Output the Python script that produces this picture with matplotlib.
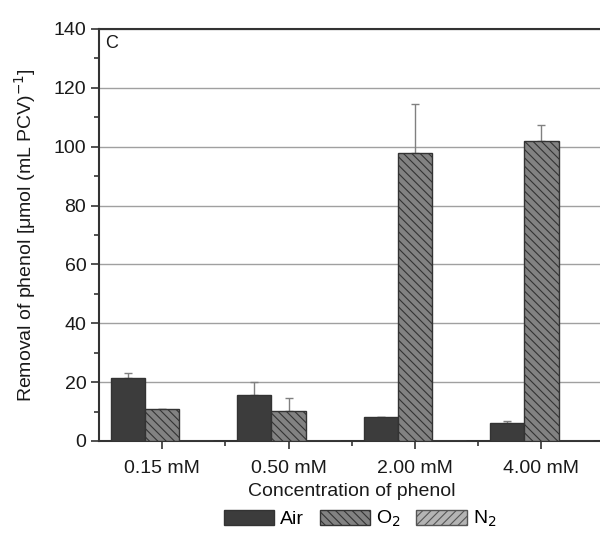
import matplotlib
matplotlib.use("Agg")
import matplotlib.pyplot as plt
import numpy as np
from matplotlib.ticker import MultipleLocator

plt.rcParams['font.family'] = ['Liberation Sans', 'DejaVu Sans']
plt.rcParams['hatch.linewidth'] = 0.8

categories = ["0.15 mM", "0.50 mM", "2.00 mM", "4.00 mM"]
air = [21.4, 15.6, 8.2, 6.1]
air_err = [1.7, 4.4, 0.0, 0.7]
o2 = [10.9, 10.2, 97.9, 101.9]
o2_err = [0.0, 4.4, 16.6, 5.5]
n2 = [0.0, 0.0, 0.0, 0.0]

fig = plt.figure(figsize=(6.0, 5.38), dpi=100)
ax = fig.add_axes([0.1646, 0.1803, 0.8433, 0.7658])

x = np.arange(len(categories))
w = 0.269
dark = "#333333"
txt = "#1a1a1a"
fs = 14

ax.bar(x - w, air, w, color="#3c3c3c", edgecolor=dark, linewidth=1.0, label="Air", zorder=3)
ax.bar(x, o2, w, color="#828282", edgecolor=dark, linewidth=1.0, hatch="\\\\\\\\", label="O$_2$", zorder=3)
ax.bar(x + w, n2, w, color="#b4b4b4", edgecolor="#555555", linewidth=1.0, hatch="////", label="N$_2$", zorder=3)

errc = "#808080"
ax.errorbar(x - w, air, yerr=[np.zeros(4), air_err], fmt="none", ecolor=errc,
            elinewidth=1.0, capsize=3, capthick=1.0, zorder=2)
ax.errorbar(x, o2, yerr=[np.zeros(4), o2_err], fmt="none", ecolor=errc,
            elinewidth=1.0, capsize=3, capthick=1.0, zorder=2)

ax.set_xlim(-0.5, 3.5)
ax.set_ylim(0, 140)
ax.yaxis.set_major_locator(MultipleLocator(20))
ax.yaxis.set_minor_locator(MultipleLocator(10))
ax.set_xticks(x)
ax.set_xticklabels(categories)
ax.set_xticks(x[:-1] + 0.5, minor=True)

ax.grid(axis="y", color="#a0a0a0", linewidth=1.0, zorder=0)
ax.set_axisbelow(True)

for s in ["left", "bottom", "top"]:
    ax.spines[s].set_color(dark)
    ax.spines[s].set_linewidth(1.5)
ax.spines["right"].set_visible(False)

ax.tick_params(axis="both", which="major", direction="out", length=6, width=1.2,
               color=dark, labelsize=fs, labelcolor=txt, pad=3)
ax.tick_params(axis="x", which="major", pad=8)
ax.tick_params(axis="both", which="minor", direction="out", length=3.5, width=1.2, color=dark)

ax.set_ylabel("Removal of phenol [μmol (mL PCV)$^{-1}$]", fontsize=fs, color=txt, labelpad=11)
ax.set_xlabel("Concentration of phenol", fontsize=fs, color=txt, labelpad=4)

ax.text(0.012, 0.985, "C", transform=ax.transAxes, fontsize=13, va="top", ha="left", color=txt)

fig.legend(loc="center", bbox_to_anchor=(0.6, 0.035), ncol=3, frameon=False,
           fontsize=fs, handlelength=2.6, handleheight=0.8, handletextpad=0.3,
           columnspacing=0.8)

fig.savefig("out.png", dpi=100)
